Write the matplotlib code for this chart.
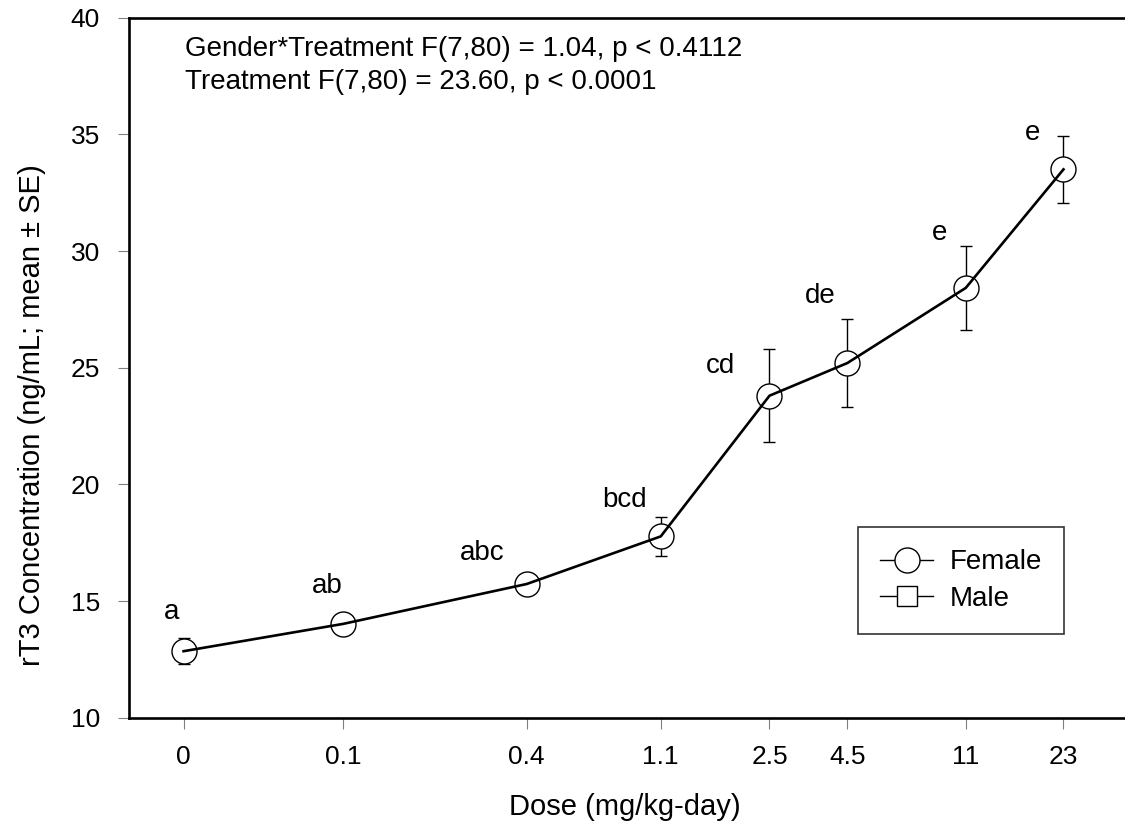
import matplotlib
matplotlib.use("Agg")
import matplotlib.pyplot as plt
from matplotlib.lines import Line2D

plt.rcParams['font.family'] = ['Liberation Sans', 'DejaVu Sans']

# data
dose_labels = ['0', '0.1', '0.4', '1.1', '2.5', '4.5', '11', '23']
dose_plot = [0.03, 0.1, 0.4, 1.1, 2.5, 4.5, 11, 23]   # 0 drawn at 0.03 on the log axis
female_mean = [12.85, 14.02, 15.73, 17.77, 23.8, 25.2, 28.42, 33.5]
female_se = [0.55, 0.4, 0.4, 0.85, 2.0, 1.9, 1.8, 1.45]
letters = ['a', 'ab', 'abc', 'bcd', 'cd', 'de', 'e', 'e']
# where each letter sits relative to its point (pixels)
letter_off = [(-12, 39), (-16, 38), (-45, 31), (-36, 36), (-49, 30), (-27, 67), (-26, 55), (-31, 36)]

fig = plt.figure(figsize=(11.25, 8.24), dpi=100)
ax = fig.add_axes([129 / 1125, 1 - 717.7 / 824, 1001 / 1125, 700 / 824])

# error bars under white markers, connecting line on top
ax.errorbar(dose_plot, female_mean, yerr=female_se, fmt='none', ecolor='black',
            elinewidth=1.0, capsize=4.6, capthick=1.0, zorder=2)
ax.plot(dose_plot, female_mean, linestyle='none', marker='o', markersize=18,
        markerfacecolor='white', markeredgecolor='black', markeredgewidth=1.0, zorder=3)
ax.plot(dose_plot, female_mean, color='black', lw=1.9, zorder=4)

for x, m, t, off in zip(dose_plot, female_mean, letters, letter_off):
    ax.annotate(t, (x, m), xytext=off, textcoords='offset pixels',
                ha='center', va='center', fontsize=20)

ax.set_xscale('log')
ax.set_xlim(0.01987, 38.0)
ax.set_ylim(10, 40)
ax.set_xticks(dose_plot)
ax.set_xticklabels(dose_labels)
ax.minorticks_off()
ax.set_yticks([10, 15, 20, 25, 30, 35, 40])

ax.tick_params(axis='both', direction='out', length=8, width=0.8, color='gray',
               labelsize=19)
ax.tick_params(axis='x', pad=12)
ax.tick_params(axis='y', pad=13)
for side in ['left', 'top', 'bottom']:
    ax.spines[side].set_linewidth(1.9)
ax.spines['right'].set_visible(False)

ax.set_xlabel('Dose (mg/kg-day)', fontsize=21)
ax.xaxis.set_label_coords(0.4955, -0.108)
ax.set_ylabel('rT3 Concentration (ng/mL; mean \u00b1 SE)', fontsize=21)
ax.yaxis.set_label_coords(-0.083, 0.432)

ax.text(0.056, 0.955, 'Gender*Treatment F(7,80) = 1.04, p < 0.4112',
        transform=ax.transAxes, fontsize=20, va='center', ha='left')
ax.text(0.056, 0.908, 'Treatment F(7,80) = 23.60, p < 0.0001',
        transform=ax.transAxes, fontsize=20, va='center', ha='left')

handles = [Line2D([], [], color='black', lw=1.0, marker='o', markersize=18,
                  markerfacecolor='white', markeredgewidth=1.0),
           Line2D([], [], color='black', lw=1.0, marker='s', markersize=15,
                  markerfacecolor='white', markeredgewidth=1.0)]
leg = ax.legend(handles, ['Female', 'Male'], loc='upper left',
                bbox_to_anchor=((858 - 129) / 1001, (717.7 - 527) / 700),
                fontsize=20, frameon=True, fancybox=False, edgecolor='black',
                handlelength=1.9, handletextpad=0.6, borderpad=0.8, labelspacing=0.38,
                borderaxespad=0)
leg.get_frame().set_linewidth(1.2)

fig.savefig('out.png', dpi=100)
